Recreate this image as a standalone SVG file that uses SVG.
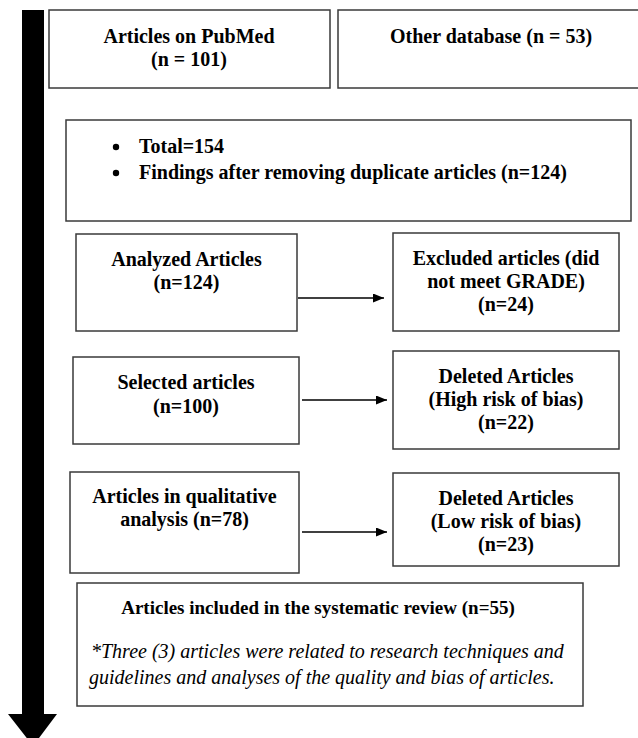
<svg xmlns="http://www.w3.org/2000/svg" width="638" height="738" viewBox="0 0 638 738">
<style>
.box{fill:#fff;stroke:#3a3a3a;stroke-width:1.5}
.t{font-family:"Liberation Serif","Times New Roman",serif;font-size:20px;font-weight:bold;fill:#000;text-anchor:middle}
.tl{font-family:"Liberation Serif","Times New Roman",serif;font-size:20px;font-weight:bold;fill:#000}
.it{font-family:"Liberation Serif","Times New Roman",serif;font-size:20px;font-style:italic;fill:#000}
.con{stroke:#000;stroke-width:1.6;fill:none}
</style>
<defs>
<marker id="ah" markerWidth="11" markerHeight="9" refX="11" refY="4.5" orient="auto" markerUnits="userSpaceOnUse">
<path d="M0,0 L11,4.5 L0,9 Z" fill="#000"/>
</marker>
</defs>
<rect width="638" height="738" fill="#fff"/>
<g id="timeline">
<path d="M22,10 H44 V714 H57 L33,746 L8,714 H22 Z" fill="#000"/>
</g>
<g id="pubmed">
<rect class="box" x="49" y="10" width="281" height="78"/>
<text class="t" x="189" y="43">Articles on PubMed</text>
<text class="t" x="189" y="66">(n = 101)</text>
</g>
<g id="other">
<rect class="box" x="338" y="10" width="310" height="78"/>
<text class="t" x="491" y="43">Other database (n = 53)</text>
</g>
<g id="total">
<rect class="box" x="66" y="120" width="565" height="101"/>
<circle cx="116" cy="147" r="3.2" fill="#000"/>
<circle cx="116" cy="173" r="3.2" fill="#000"/>
<text class="tl" x="139" y="153">Total=154</text>
<text class="tl" x="139" y="179">Findings after removing duplicate articles (n=124)</text>
</g>
<g id="analyzed">
<rect class="box" x="76" y="234" width="221" height="97"/>
<text class="t" x="186.5" y="266">Analyzed Articles</text>
<text class="t" x="186.5" y="289">(n=124)</text>
</g>
<g id="excluded">
<rect class="box" x="393" y="233" width="226" height="98"/>
<text class="t" x="506" y="265">Excluded articles (did</text>
<text class="t" x="506" y="288">not meet GRADE)</text>
<text class="t" x="506" y="311">(n=24)</text>
</g>
<g id="selected">
<rect class="box" x="73" y="357" width="226" height="87"/>
<text class="t" x="186" y="389">Selected articles</text>
<text class="t" x="186" y="413">(n=100)</text>
</g>
<g id="deleted-high">
<rect class="box" x="393" y="351" width="226" height="98"/>
<text class="t" x="506" y="383">Deleted Articles</text>
<text class="t" x="506" y="406">(High risk of bias)</text>
<text class="t" x="506" y="429">(n=22)</text>
</g>
<g id="qualitative">
<rect class="box" x="70" y="472" width="229" height="101"/>
<text class="t" x="184.5" y="503">Articles in qualitative</text>
<text class="t" x="184.5" y="526">analysis (n=78)</text>
</g>
<g id="deleted-low">
<rect class="box" x="393" y="473" width="226" height="93"/>
<text class="t" x="506" y="505">Deleted Articles</text>
<text class="t" x="506" y="528">(Low risk of bias)</text>
<text class="t" x="506" y="551">(n=23)</text>
</g>
<g id="included">
<rect class="box" x="77" y="583" width="506" height="123"/>
<text class="t" x="318" y="614" style="font-size:19px">Articles included in the systematic review (n=55)</text>
<text class="it" x="91" y="658">*Three (3) articles were related to research techniques and</text>
<text class="it" x="89" y="684">guidelines and analyses of the quality and bias of articles.</text>
</g>
<g id="connectors">
<line class="con" x1="298" y1="298" x2="384" y2="298" marker-end="url(#ah)"/>
<line class="con" x1="302" y1="400" x2="387" y2="400" marker-end="url(#ah)"/>
<line class="con" x1="302" y1="532" x2="387" y2="532" marker-end="url(#ah)"/>
</g>
</svg>
